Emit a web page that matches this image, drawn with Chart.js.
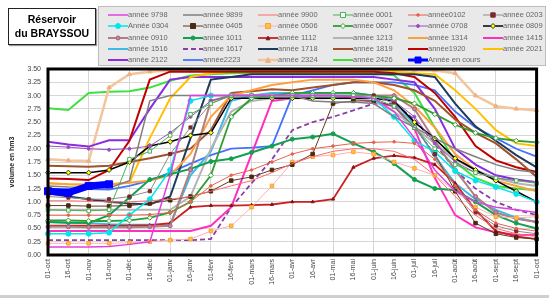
<!DOCTYPE html>
<html>
<head>
<meta charset="utf-8">
<script src="https://cdn.jsdelivr.net/npm/chart.js@4.4.1/dist/chart.umd.min.js"></script>
<style>
body{margin:0;background:#fff;width:549px;height:298px;overflow:hidden;position:relative;font-family:"Liberation Sans",Arial,sans-serif}
#c{position:absolute;left:0;top:0}
#titre{position:absolute;left:8px;top:8px;width:86px;height:32px;border:1.5px solid #222;background:#fff;font-weight:bold;font-size:10.5px;text-align:center;line-height:14px;padding-top:3px;box-shadow:1px 1px 1px #999}
#legende{position:absolute;left:98px;top:6px;width:446px;height:58px;background:#e9e9e9;border:1px solid #bdbdbd}
.item{position:absolute;font-size:7.5px;color:#666;white-space:nowrap;height:10px;line-height:10px}
.item canvas{vertical-align:middle}
#bas{position:absolute;left:0;bottom:0;width:549px;height:3px;background:#cfcfcf}
</style>
</head>
<body>
<canvas id="c" width="549" height="298"></canvas>
<div id="titre">Réservoir<br>du BRAYSSOU</div>
<div id="legende"></div>
<div id="bas"></div>
<script>
// axe des dates (1er et 16 de chaque mois)
const labels = ['01-oct','16-oct','01-nov','16-nov','01-déc','16-déc','01-janv','16-janv','01-févr','16-févr','01-mars','16-mars',
  '01-avr','16-avr','01-mai','16-mai','01-juin','16-juin','01-juil','16-juil','01-août','16-août','01-sept','16-sept','01-oct'];
const yTicks = [0,0.25,0.5,0.75,1,1.25,1.5,1.75,2,2.25,2.5,2.75,3,3.25,3.5];

// volumes en hm3, un point par quinzaine
const v9798 = [0.15,0.15,0.15,0.16,0.2,0.25,1.5,3.0,3.0,3.0,3.0,3.0,3.0,3.0,3.0,2.98,2.95,2.7,2.2,1.6,1.2,1.0,0.9,0.85,0.8];
const v9899 = [1.3,1.28,1.27,1.26,1.4,2.9,3.0,3.0,3.0,3.0,3.0,3.0,3.0,2.9,2.88,2.88,2.85,2.6,2.4,2.2,2.0,1.85,1.7,1.6,1.55];
const v9900 = [1.02,1.02,1.01,1.0,1.0,1.02,1.05,1.1,1.2,1.3,1.4,1.55,1.72,1.85,1.95,2.0,2.0,1.95,1.8,1.5,1.1,0.75,0.5,0.4,0.35];
const v0001 = [0.85,0.84,0.83,0.85,1.8,1.95,2.25,2.65,2.85,3.0,3.0,3.0,3.0,3.0,3.0,3.0,2.95,2.8,2.4,2.0,1.7,1.55,1.45,1.4,1.35];
const v0102 = [0.75,0.75,0.75,0.75,0.75,0.76,0.8,1.0,1.3,1.5,1.6,1.75,1.9,2.0,2.05,2.1,2.12,2.13,2.1,1.8,1.3,0.85,0.6,0.5,0.45];
const v0203 = [1.1,1.08,1.05,1.05,1.1,1.2,1.9,2.4,2.85,3.0,3.0,3.0,3.0,3.0,3.0,3.0,3.0,2.85,2.4,1.9,1.3,0.8,0.55,0.45,0.4];
const v0304 = [0.4,0.4,0.4,0.42,0.75,1.05,1.6,2.9,3.0,3.0,3.0,3.0,3.0,3.0,3.0,3.0,2.95,2.6,2.15,1.94,1.58,1.4,1.28,1.15,1.0];
const v0405 = [0.93,0.93,0.92,0.92,0.93,0.97,1.03,1.1,1.2,1.4,1.47,1.6,1.7,1.9,2.85,2.9,2.9,2.8,2.4,1.9,1.2,0.6,0.4,0.33,0.3];
const v0506 = [0.22,0.22,0.22,0.22,0.23,0.25,0.28,0.3,0.45,0.55,0.9,1.3,1.75,1.85,1.88,1.94,1.9,1.75,1.63,1.5,1.2,0.9,0.72,0.7,0.72];
const v0607 = [0.65,0.65,0.64,0.64,0.65,0.7,0.8,1.0,1.5,2.6,2.95,3.0,3.05,3.05,3.05,3.05,3.0,2.95,2.85,2.65,2.45,2.3,2.2,2.15,2.12];
const v0708 = [2.05,2.03,2.0,1.98,2.0,2.05,2.3,2.6,2.9,3.0,3.0,3.0,3.0,3.0,3.0,3.0,3.0,2.9,2.6,2.1,1.75,1.55,1.45,1.4,1.38];
const v0809 = [1.55,1.55,1.55,1.6,1.75,2.05,2.13,2.25,2.3,2.95,2.95,2.95,2.95,2.95,2.95,2.95,2.95,2.9,2.5,2.19,1.82,1.6,1.4,1.2,1.0];
const v0910 = [0.53,0.53,0.52,0.52,0.52,0.53,0.55,1.6,2.9,3.0,3.0,3.0,3.0,3.0,3.0,3.0,3.0,3.0,2.75,2.15,1.6,1.1,0.8,0.68,0.62];
const v1011 = [0.62,0.61,0.6,0.75,1.08,1.42,1.52,1.62,1.76,1.81,1.93,2.05,2.18,2.22,2.28,2.1,1.94,1.72,1.42,1.25,1.22,1.0,0.75,0.6,0.5];
const v1112 = [0.55,0.55,0.55,0.55,0.55,0.56,0.6,0.9,0.93,0.93,0.94,0.95,1.0,1.0,1.05,1.65,1.82,1.87,1.83,1.7,1.35,0.85,0.45,0.35,0.3];
const v1213 = [0.85,0.85,0.85,0.85,0.85,0.85,0.85,1.1,2.0,2.7,2.9,2.95,2.95,2.95,2.95,2.95,2.9,2.7,2.4,2.1,1.8,1.6,1.45,1.35,1.3];
const v1314 = [1.35,1.33,1.32,1.33,1.36,1.4,1.5,1.9,2.6,3.0,3.1,3.2,3.25,3.3,3.3,3.3,3.25,3.1,2.8,2.4,1.9,1.6,1.4,1.3,1.2];
const v1415 = [0.45,0.45,0.45,0.45,0.45,0.45,0.45,0.45,0.55,0.9,1.9,2.9,2.95,3.0,3.0,2.95,2.88,2.8,2.38,1.45,0.75,0.52,0.43,0.38,0.37];
const v1516 = [0.62,0.6,0.6,0.58,0.57,0.57,0.57,1.5,1.95,2.9,3.0,3.05,3.05,3.05,3.05,3.05,3.0,2.9,2.45,1.85,1.35,1.05,0.85,0.7,0.62];
const v1617 = [0.28,0.28,0.28,0.28,0.28,0.28,0.28,0.28,0.3,0.9,1.35,1.8,2.35,2.5,2.6,2.72,2.85,2.85,2.55,2.1,1.6,1.25,1.0,0.85,0.75];
const v1718 = [1.16,1.1,1.05,1.0,0.97,0.95,1.1,2.2,3.3,3.35,3.4,3.4,3.4,3.4,3.4,3.4,3.4,3.4,3.4,3.35,2.85,2.42,2.15,1.88,1.65];
const v1819 = [1.68,1.67,1.66,1.68,1.75,1.82,1.9,2.0,2.35,3.05,3.08,3.12,3.1,3.15,3.2,3.25,3.25,3.2,3.1,2.9,2.55,2.3,2.1,1.8,1.47];
const v1920 = [1.44,1.43,1.41,1.6,2.15,3.3,3.45,3.45,3.45,3.45,3.45,3.45,3.45,3.45,3.45,3.45,3.45,3.42,3.35,3.05,2.6,2.05,1.78,1.65,1.56];
const v2021 = [1.35,1.33,1.32,1.33,1.36,2.2,2.95,3.35,3.42,3.45,3.45,3.45,3.45,3.45,3.45,3.45,3.45,3.45,3.42,3.4,3.1,2.75,2.35,2.1,2.05];
const v2122 = [2.13,2.08,2.04,2.16,2.16,2.75,3.3,3.35,3.35,3.35,3.35,3.35,3.35,3.35,3.35,3.35,3.35,3.3,3.25,2.75,2.0,1.7,1.5,1.42,1.37];
const v2223 = [1.25,1.24,1.24,1.23,1.3,1.4,1.55,1.72,1.88,2.0,2.02,2.05,3.0,3.1,3.2,3.25,3.25,3.25,3.2,3.1,2.7,2.4,2.2,2.0,1.85];
const v2324 = [1.8,1.78,1.77,3.15,3.4,3.45,3.47,3.47,3.47,3.47,3.47,3.47,3.47,3.47,3.47,3.47,3.47,3.47,3.47,3.47,3.42,3.0,2.8,2.75,2.72];
const v2426 = [2.76,2.73,3.05,3.07,3.08,3.15,3.28,3.38,3.4,3.42,3.43,3.42,3.42,3.42,3.42,3.42,3.42,3.38,3.05,2.4,1.75,1.45,1.3,1.25,1.22];
const vEnCours = [1.2,1.17,1.3,1.33];

const names = ['année 9798','année 9899','année 9900','année 0001','année0102','année 0203',
  'Année 0304','année 0405','année 0506','année 0607','année 0708','année 0809',
  'année 0910','année 1011','année 1112','année 1213','année 1314','année 1415',
  'année 1516','année 1617','année 1718','année 1819','année1920','année 2021',
  'année 2122','année2223','année 2324','année 2426','Année en cours'];
const values = [v9798,v9899,v9900,v0001,v0102,v0203,v0304,v0405,v0506,v0607,v0708,v0809,
  v0910,v1011,v1112,v1213,v1314,v1415,v1516,v1617,v1718,v1819,v1920,v2021,v2122,v2223,v2324,v2426,vEnCours];

// c: couleur, w: epaisseur, p: marqueur, f: remplissage, b: bord du marqueur, r: rayon
const styles = [
  {c:'#e040e0', w:1.5},
  {c:'#7f7f7f', w:1.5},
  {c:'#ff6b6b', w:1},
  {c:'#4caf50', w:1, p:'rect', f:'#ffffff', b:'#4caf50', r:2.5},
  {c:'#e8604c', w:1, p:'circle', f:'#e8604c', b:'#e8604c', r:1.3},
  {c:'#8c8c8c', w:1, p:'rect', f:'#7a2a2a', b:'#7a2a2a', r:2.2},
  {c:'#00e5ee', w:1.5, p:'circle', f:'#00e5ee', b:'#00e5ee', r:2.5},
  {c:'#5c3a1e', w:1, p:'rect', f:'#4a2a10', b:'#4a2a10', r:2.5},
  {c:'#ffb0b0', w:1, p:'rect', f:'#ffc04a', b:'#ffa030', r:2.5},
  {c:'#2e9e2e', w:1.8, p:'rectRot', f:'#ffffff', b:'#2e9e2e', r:2.5},
  {c:'#9a4fc0', w:1, p:'circle', f:'#9a4fc0', b:'#9a4fc0', r:1.5},
  {c:'#000000', w:1.5, p:'rectRot', f:'#ffff00', b:'#333333', r:2.5},
  {c:'#b08080', w:2, p:'circle', f:'#d080a0', b:'#a06080', r:2},
  {c:'#10a050', w:2, p:'circle', f:'#10a050', b:'#10a050', r:2},
  {c:'#cc2020', w:1.8, p:'triangle', f:'#7a1a1a', b:'#7a1a1a', r:1.8},
  {c:'#b4b4b4', w:2},
  {c:'#ffa040', w:2},
  {c:'#ff30c0', w:2},
  {c:'#40b8e8', w:2},
  {c:'#8a3fa8', w:1.8, dash:[5,3]},
  {c:'#1f3a5a', w:2},
  {c:'#a0522d', w:2},
  {c:'#c00000', w:2},
  {c:'#ffc000', w:2},
  {c:'#8a2be2', w:2},
  {c:'#4472ff', w:1.8},
  {c:'#f4c49a', w:2.5, p:'triangle', f:'#f0b080', b:'#f0b080', r:2.5},
  {c:'#3ee03e', w:2},
  {c:'#0000ff', w:7, p:'rect', f:'#0000ff', b:'#0000ff', r:5}
];

const datasets = names.map((n, i) => {
  const s = styles[i];
  return {
    label: n,
    data: values[i],
    borderColor: s.c,
    borderWidth: s.w,
    borderDash: s.dash || [],
    pointStyle: s.p || 'circle',
    pointRadius: s.p ? s.r : 0,
    pointBackgroundColor: s.f,
    pointBorderColor: s.b,
    pointBorderWidth: 1,
    tension: 0,
    order: n === 'Année en cours' ? -1 : 0
  };
});

const cadre = {
  id: 'cadre',
  afterDraw(chart) {
    const a = chart.chartArea, ctx = chart.ctx;
    ctx.save();
    ctx.strokeStyle = '#000';
    ctx.lineWidth = 3;
    ctx.strokeRect(a.left, a.top, a.right - a.left, a.bottom - a.top);
    ctx.restore();
  }
};

const tickFont = {family: '"Liberation Sans", Arial, sans-serif', size: 7};

new Chart(document.getElementById('c'), {
  type: 'line',
  data: {labels: labels, datasets: datasets},
  options: {
    responsive: false,
    animation: false,
    layout: {padding: {top: 69, right: 11, left: 8, bottom: 0}},
    plugins: {legend: {display: false}, tooltip: {enabled: false}},
    scales: {
      x: {
        offset: false,
        grid: {color: c => c.index % 2 === 0 ? '#d6d6d6' : 'rgba(0,0,0,0)', drawTicks: false},
        border: {display: false},
        ticks: {autoSkip: false, minRotation: 90, maxRotation: 90, padding: 4, color: '#444', font: tickFont},
        afterFit: s => { s.height = 43; }
      },
      y: {
        min: 0, max: 3.5,
        afterBuildTicks: s => { s.ticks = yTicks.map(v => ({value: v})); },
        grid: {color: '#d6d6d6', drawTicks: false},
        border: {display: false},
        ticks: {padding: 7, color: '#444', font: tickFont, callback: v => v.toFixed(2)},
        title: {display: true, text: 'volume en hm3', color: '#222', font: {family: '"Liberation Sans", Arial, sans-serif', size: 7, weight: 'bold'}, padding: 0},
        afterFit: s => { s.width = 40; }
      }
    }
  },
  plugins: [cadre]
});

// légende en 6 colonnes
function marker(ctx, s, x, y) {
  ctx.fillStyle = s.f; ctx.strokeStyle = s.b; ctx.lineWidth = 1;
  const r = Math.min(s.r, 3);
  ctx.beginPath();
  if (s.p === 'circle') ctx.arc(x, y, r, 0, Math.PI * 2);
  else if (s.p === 'rect') ctx.rect(x - r, y - r, 2 * r, 2 * r);
  else if (s.p === 'rectRot') { ctx.moveTo(x, y - r); ctx.lineTo(x + r, y); ctx.lineTo(x, y + r); ctx.lineTo(x - r, y); ctx.closePath(); }
  else if (s.p === 'triangle') { ctx.moveTo(x, y - r); ctx.lineTo(x + r, y + r); ctx.lineTo(x - r, y + r); ctx.closePath(); }
  ctx.fill(); ctx.stroke();
}
const leg = document.getElementById('legende');
names.forEach((n, i) => {
  const s = styles[i];
  const col = i % 6, row = Math.floor(i / 6);
  const d = document.createElement('div');
  d.className = 'item';
  d.style.left = (9 + col * 75) + 'px';
  d.style.top = (3 + row * 11.3) + 'px';
  const cv = document.createElement('canvas');
  cv.width = 20; cv.height = 8;
  const ctx = cv.getContext('2d');
  ctx.strokeStyle = s.c;
  ctx.lineWidth = Math.min(s.w, 3);
  ctx.setLineDash(s.dash || []);
  ctx.beginPath(); ctx.moveTo(0, 4); ctx.lineTo(20, 4); ctx.stroke();
  ctx.setLineDash([]);
  if (s.p) marker(ctx, s, 10, 4);
  d.appendChild(cv);
  d.appendChild(document.createTextNode(n));
  leg.appendChild(d);
});
</script>
</body>
</html>
